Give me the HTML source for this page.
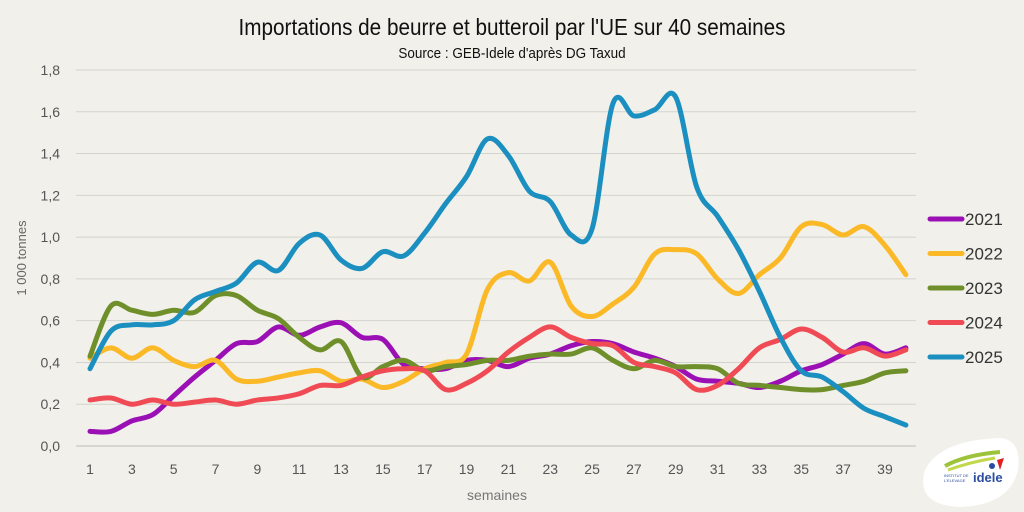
<!DOCTYPE html>
<html><head><meta charset="utf-8">
<style>
html,body{margin:0;padding:0;background:#f1f0ea;}
svg{display:block;}
text{font-family:"Liberation Sans",sans-serif;}
</style></head>
<body>
<svg id="c" width="1024" height="512" viewBox="0 0 1024 512" xmlns="http://www.w3.org/2000/svg">
<rect width="1024" height="512" fill="#f1f0ea"/>
<text x="512" y="35" text-anchor="middle" font-size="23" fill="#111" transform="translate(512 0) scale(0.9 1) translate(-512 0)">Importations de beurre et butteroil par l'UE sur 40 semaines</text>
<text x="512" y="58" text-anchor="middle" font-size="15" fill="#111" transform="translate(512 0) scale(0.9 1) translate(-512 0)">Source : GEB-Idele d'après DG Taxud</text>
<g id="grid"></g>
<g id="lines" fill="none" stroke-width="5" stroke-linecap="round" stroke-linejoin="round"></g>
<text x="0" y="0" font-size="13" fill="#666" transform="translate(26 258) rotate(-90)" text-anchor="middle">1 000 tonnes</text>
<text x="497" y="500" font-size="14" fill="#777" text-anchor="middle">semaines</text>
<g id="legend" font-size="17" fill="#333"></g>
<path d="M925 470 Q940 440 1000 438 Q1022 440 1018 470 Q1010 505 960 507 Q915 505 925 470Z" fill="#fff"/>
<path d="M945 466 Q965 455 1000 452" stroke="#9cc33a" stroke-width="4" fill="none"/>
<path d="M948 470 Q970 462 995 458" stroke="#c2d84a" stroke-width="3" fill="none"/>
<circle cx="992" cy="466" r="3" fill="#2b4da0"/>
<path d="M997 460 L1004 458 L1000 470Z" fill="#e02020"/>
<text x="973" y="482" font-size="13" font-weight="bold" fill="#2b4da0">idele</text>
<text x="944" y="477" font-size="4" fill="#2b4da0">INSTITUT DE</text>
<text x="944" y="482" font-size="4" fill="#2b4da0">L'ELEVAGE</text>
</svg>
<script>
var X=function(w){return 90+(w-1)*20.92;};
var Y=function(v){return 446-v*208.9;};
var ns="http://www.w3.org/2000/svg";
function el(t,a,p,txt){var e=document.createElementNS(ns,t);for(var k in a)e.setAttribute(k,a[k]);if(txt)e.textContent=txt;p.appendChild(e);return e;}
var g=document.getElementById("grid");
for(var i=0;i<=9;i++){var v=i*0.2,y=Y(v);
 if(i>0)el("line",{x1:76,x2:916,y1:y,y2:y,stroke:"#d4d4ce","stroke-width":1},g);
 el("text",{x:60,y:y+5,"font-size":14,fill:"#555","text-anchor":"end"},g,v.toFixed(1).replace(".",","));}
el("line",{x1:76,x2:916,y1:Y(0),y2:Y(0),stroke:"#bbb","stroke-width":1},g);
for(var w=1;w<=39;w+=2)el("text",{x:X(w),y:474,"font-size":14,fill:"#555","text-anchor":"middle"},g,""+w);
var S=[
["#9b10b5",[0.07,0.07,0.12,0.15,0.24,0.33,0.41,0.49,0.5,0.57,0.53,0.57,0.59,0.52,0.51,0.39,0.37,0.37,0.41,0.41,0.38,0.42,0.44,0.48,0.5,0.49,0.45,0.42,0.38,0.32,0.31,0.3,0.28,0.31,0.36,0.39,0.44,0.49,0.44,0.47],"2021"],
["#fbb927",[0.42,0.47,0.42,0.47,0.41,0.38,0.41,0.32,0.31,0.33,0.35,0.36,0.31,0.32,0.28,0.31,0.37,0.40,0.44,0.75,0.83,0.79,0.88,0.67,0.62,0.68,0.76,0.92,0.94,0.92,0.8,0.73,0.82,0.9,1.05,1.06,1.01,1.05,0.96,0.82],"2022"],
["#6f8f2a",[0.43,0.67,0.65,0.63,0.65,0.64,0.72,0.72,0.65,0.61,0.52,0.46,0.5,0.33,0.38,0.41,0.36,0.38,0.39,0.41,0.41,0.43,0.44,0.44,0.47,0.41,0.37,0.41,0.38,0.38,0.37,0.3,0.29,0.28,0.27,0.27,0.29,0.31,0.35,0.36],"2023"],
["#f04b55",[0.22,0.23,0.2,0.22,0.2,0.21,0.22,0.2,0.22,0.23,0.25,0.29,0.29,0.33,0.36,0.37,0.36,0.27,0.3,0.36,0.45,0.52,0.57,0.52,0.49,0.48,0.40,0.38,0.35,0.27,0.29,0.37,0.47,0.51,0.56,0.52,0.45,0.47,0.43,0.46],"2024"],
["#1a8fc0",[0.37,0.55,0.58,0.58,0.6,0.7,0.74,0.78,0.88,0.84,0.97,1.01,0.89,0.85,0.93,0.91,1.02,1.16,1.29,1.47,1.39,1.22,1.17,1.01,1.04,1.64,1.58,1.61,1.67,1.24,1.1,0.94,0.74,0.52,0.36,0.33,0.26,0.18,0.14,0.10],"2025"]];
var L=document.getElementById("lines"),lg=document.getElementById("legend");
S.forEach(function(s,k){var p=s[1].map(function(v,i){return[X(i+1),Y(v)];});
 var d="M"+p[0][0]+" "+p[0][1];
 for(var i=0;i<p.length-1;i++){var p0=p[i-1]||p[i],p1=p[i],p2=p[i+1],p3=p[i+2]||p2;
  d+=" C"+(p1[0]+(p2[0]-p0[0])/6)+" "+(p1[1]+(p2[1]-p0[1])/6)+" "+(p2[0]-(p3[0]-p1[0])/6)+" "+(p2[1]-(p3[1]-p1[1])/6)+" "+p2[0]+" "+p2[1];}
 el("path",{d:d,stroke:s[0]},L);
 var y=219+k*34.5;
 el("line",{x1:930,x2:962,y1:y,y2:y,stroke:s[0],"stroke-width":5,"stroke-linecap":"round"},lg);
 el("text",{x:965,y:y+6},lg,s[2]);});
</script>
</body></html>
